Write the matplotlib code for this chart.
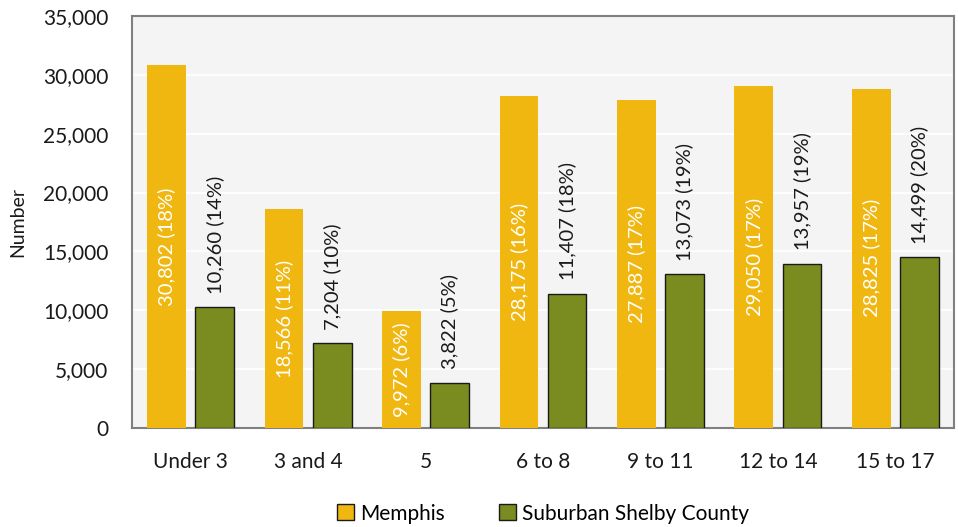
import numpy as np
import matplotlib
matplotlib.use("Agg")
import matplotlib.pyplot as plt
from matplotlib.ticker import FuncFormatter

plt.rcParams['font.family'] = ['Lato', 'DejaVu Sans']

ages = ["Under 3", "3 and 4", "5", "6 to 8", "9 to 11", "12 to 14", "15 to 17"]
memphis = [30802, 18566, 9972, 28175, 27887, 29050, 28825]
memphis_pct = [18, 11, 6, 16, 17, 17, 17]
suburban = [10260, 7204, 3822, 11407, 13073, 13957, 14499]
suburban_pct = [14, 10, 5, 18, 19, 19, 20]

gold = "#F0B711"
olive = "#7A8B1F"

fig = plt.figure(figsize=(9.58, 5.27), dpi=100)
ax = fig.add_axes([0.1378, 0.1879, 0.8580, 0.7817])
ax.set_facecolor("#F4F4F4")

x = np.arange(len(ages))
w = 0.33
off = 0.205

b1 = ax.bar(x - off, memphis, w, color=gold, label="Memphis", zorder=3)
b2 = ax.bar(x + off, suburban, w, color=olive, edgecolor="#1a1a1a", linewidth=1.0,
            label="Suburban Shelby County", zorder=3)

for xi, v, p in zip(x, memphis, memphis_pct):
    ax.text(xi - off, v / 2, f"{v:,} ({p}%)", rotation=90, ha="center", va="center",
            color="white", fontsize=14.5, zorder=4)
for xi, v, p in zip(x, suburban, suburban_pct):
    ax.text(xi + off, v + 1150, f"{v:,} ({p}%)", rotation=90, ha="center", va="bottom",
            color="#1a1a1a", fontsize=14.5, zorder=4)

ax.set_xlim(-0.5, len(ages) - 0.5)
ax.set_ylim(0, 35000)
ax.set_yticks(np.arange(0, 35001, 5000))
ax.yaxis.set_major_formatter(FuncFormatter(lambda v, pos: f"{int(v):,}"))
ax.set_xticks(x)
ax.set_xticklabels(ages)
ax.tick_params(axis="both", length=0, labelsize=15, colors="#1a1a1a")
ax.tick_params(axis="x", pad=17)
ax.tick_params(axis="y", pad=17)
ax.grid(axis="y", color="white", linewidth=1.2, zorder=1)
for s in ax.spines.values():
    s.set_color("#808080")
    s.set_linewidth(1.5)

ax.set_ylabel("Number", fontsize=14, color="#1a1a1a", labelpad=12)

ax.legend(loc="upper center", bbox_to_anchor=(0.5, -0.153), ncol=2, frameon=False,
          fontsize=15, handlelength=0.8, handleheight=0.8, handletextpad=0.3,
          columnspacing=2.6, borderaxespad=0.2)
for h in ax.get_legend().legend_handles:
    h.set_edgecolor("#1a1a1a")
    h.set_linewidth(1.0)

fig.savefig("out.png", dpi=100)
